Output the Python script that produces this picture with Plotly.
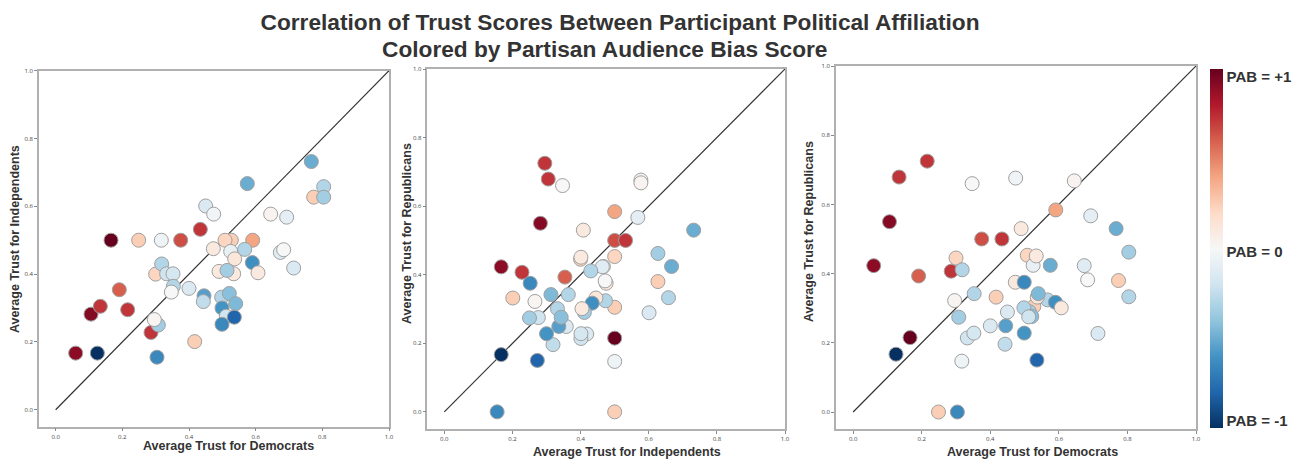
import plotly.graph_objects as go

# Per-source average trust by participant affiliation and PAB score
dem = [0.125, 0.060, 0.166, 0.106, 0.134, 0.216, 0.191, 0.286, 0.375, 0.434,
       0.591, 0.249, 0.417, 0.774, 0.300, 0.527, 0.508, 0.317, 0.304, 0.767,
       0.575, 0.804, 0.804, 0.450, 0.474, 0.645, 0.693, 0.473, 0.525, 0.567,
       0.674, 0.684, 0.537, 0.534, 0.590, 0.714, 0.318, 0.333, 0.352, 0.490,
       0.514, 0.607, 0.353, 0.347, 0.400, 0.445, 0.443, 0.498, 0.521, 0.540,
       0.499, 0.512, 0.536, 0.499, 0.308, 0.296]
ind = [0.167, 0.167, 0.500, 0.282, 0.305, 0.295, 0.354, 0.228, 0.500, 0.532,
       0.500, 0.500, 0.201, 0.627, 0.400, 0.500, 0.500, 0.500, 0.155, 0.732,
       0.667, 0.658, 0.627, 0.601, 0.577, 0.577, 0.568, 0.475, 0.467, 0.473,
       0.464, 0.472, 0.445, 0.401, 0.434, 0.418, 0.430, 0.401, 0.401, 0.408,
       0.411, 0.404, 0.364, 0.347, 0.358, 0.336, 0.319, 0.332, 0.343, 0.313,
       0.300, 0.276, 0.273, 0.252, 0.250, 0.266]
rep = [0.167, 0.423, 0.215, 0.550, 0.679, 0.725, 0.393, 0.407, 0.500, 0.500,
       0.584, 0.000, 0.332, 0.380, 0.445, 0.305, 0.453, 0.147, 0.000, 0.530,
       0.424, 0.333, 0.462, 0.289, 0.676, 0.668, 0.567, 0.375, 0.424, 0.324,
       0.423, 0.382, 0.332, 0.451, 0.317, 0.227, 0.411, 0.214, 0.228, 0.530,
       0.290, 0.301, 0.342, 0.660, 0.249, 0.249, 0.196, 0.301, 0.276, 0.342,
       0.228, 0.275, 0.150, 0.375, 0.274, 0.322]
pab = [-1.00, 0.90, 1.00, 0.92, 0.72, 0.72, 0.60, 0.72, 0.65, 0.72,
       0.40, 0.25, 0.25, 0.25, 0.22, 0.25, 0.22, -0.05, -0.65, -0.50,
       -0.50, -0.30, -0.35, -0.15, -0.03, 0.03, -0.10, 0.10, -0.08, -0.30,
       -0.12, 0.00, 0.12, 0.10, -0.62, -0.15, -0.30, -0.20, -0.18, 0.10,
       -0.35, 0.10, -0.30, 0.00, -0.15, -0.55, -0.25, -0.30, -0.42, -0.45,
       -0.60, -0.20, -0.80, -0.65, -0.35, 0.02]

panels = [
    (dem, ind, "Average Trust for Democrats", "Average Trust for Independents"),
    (ind, rep, "Average Trust for Independents", "Average Trust for Republicans"),
    (dem, rep, "Average Trust for Democrats", "Average Trust for Republicans"),
]
tick_vals = [0.0, 0.2, 0.4, 0.6, 0.8, 1.0]
tick_text = ["0.0", "0.2", "0.4", "0.6", "0.8", "1.0"]
cb_vals = [-0.957, -0.02, 0.957]
cb_text = ["PAB = -1", "PAB = 0", "PAB = +1"]
title_lines = ["Correlation of Trust Scores Between Participant Political Affiliation",
               "Colored by Partisan Audience Bias Score"]

rdbu = ['rgb(5,48,97)', 'rgb(33,102,172)', 'rgb(67,147,195)', 'rgb(146,197,222)',
        'rgb(209,229,240)', 'rgb(247,247,247)', 'rgb(253,219,199)', 'rgb(244,165,130)',
        'rgb(214,96,77)', 'rgb(178,24,43)', 'rgb(103,0,31)']
colorscale = [[i / (len(rdbu) - 1), c] for i, c in enumerate(rdbu)]

# page body has an 8px margin: the figure is drawn 8px right/down of the window origin
OFF = 8
W, H = 1301 - OFF, 459 - OFF
boxes = [  # left, right, top, bottom in window px
    (39, 389, 70.7, 426.7),
    (427.3, 785, 69, 429),
    (836, 1196, 66, 429.3),
]
xtitle_pos = [(228, 446), (627, 451.5), (1032, 451.5)]   # window px centres
ytitle_pos = [(15, 239), (406.5, 233.5), (808.5, 231.5)]
FONT = "Liberation Sans, Arial, Helvetica"


def fx(px):
    return (px - OFF) / W


def fy(py):
    return 1 - (py - OFF) / H


fig = go.Figure()
annotations = []
for i, (xs, ys, xt, yt) in enumerate(panels):
    n = i + 1
    xa = "x" if n == 1 else f"x{n}"
    ya = "y" if n == 1 else f"y{n}"
    fig.add_trace(go.Scatter(
        x=[0, 1], y=[0, 1], mode="lines",
        line=dict(color="#333333", width=1.2),
        xaxis=xa, yaxis=ya, showlegend=False, hoverinfo="skip"))
    fig.add_trace(go.Scatter(
        x=xs, y=ys, mode="markers", xaxis=xa, yaxis=ya, showlegend=False,
        marker=dict(size=14, color=pab, colorscale=colorscale, cmin=-1, cmax=1,
                    line=dict(color="rgb(160,160,160)", width=1),
                    showscale=(n == 3),
                    colorbar=dict(tickvals=cb_vals, ticktext=cb_text,
                                  x=fx(1210), xanchor="left", xpad=0, ypad=0,
                                  y=fy(248.5), yanchor="middle",
                                  len=359 / H, lenmode="fraction", thickness=13,
                                  outlinewidth=0, ticks="",
                                  tickfont=dict(size=15, color="#333333",
                                                family=FONT, weight="bold"))),
    ))
    l, r, t, b = boxes[i]
    axis_common = dict(range=[-0.05, 1.0], tickvals=tick_vals, ticktext=tick_text,
                       showgrid=False, zeroline=False, showline=True, mirror=True,
                       linecolor="#b0b0b0", linewidth=1.5, ticks="outside",
                       ticklen=3, tickcolor="#888888",
                       tickfont=dict(size=6, color="#444444"), automargin=False)
    fig.layout[f"xaxis{'' if n == 1 else n}"] = dict(
        domain=[fx(l), fx(r)], anchor=ya, **axis_common)
    fig.layout[f"yaxis{'' if n == 1 else n}"] = dict(
        domain=[fy(b), fy(t)], anchor=xa, **axis_common)
    annotations.append(dict(
        text=xt, xref="paper", yref="paper", x=fx(xtitle_pos[i][0]), y=fy(xtitle_pos[i][1]),
        xanchor="center", yanchor="middle", showarrow=False,
        font=dict(size=12.5, color="#333333", family=FONT, weight="bold")))
    annotations.append(dict(
        text=yt, xref="paper", yref="paper", x=fx(ytitle_pos[i][0]), y=fy(ytitle_pos[i][1]),
        xanchor="center", yanchor="middle", showarrow=False, textangle=-90,
        font=dict(size=12.5, color="#333333", family=FONT, weight="bold")))

annotations.append(dict(
    text=title_lines[1], xref="paper", yref="paper", x=fx(605), y=fy(48.5),
    xanchor="center", yanchor="middle", showarrow=False,
    font=dict(size=22.7, color="#333333", family=FONT, weight="bold")))

fig.update_layout(
    width=W, height=H,
    margin=dict(l=0, r=0, t=0, b=0),
    plot_bgcolor="white", paper_bgcolor="white",
    annotations=annotations,
    title=dict(text=title_lines[0], xref="paper", yref="container",
               x=fx(620), xanchor="center", y=fy(22), yanchor="middle",
               font=dict(size=22.7, color="#333333", family=FONT, weight="bold")),
)

fig.write_html("out.html")
